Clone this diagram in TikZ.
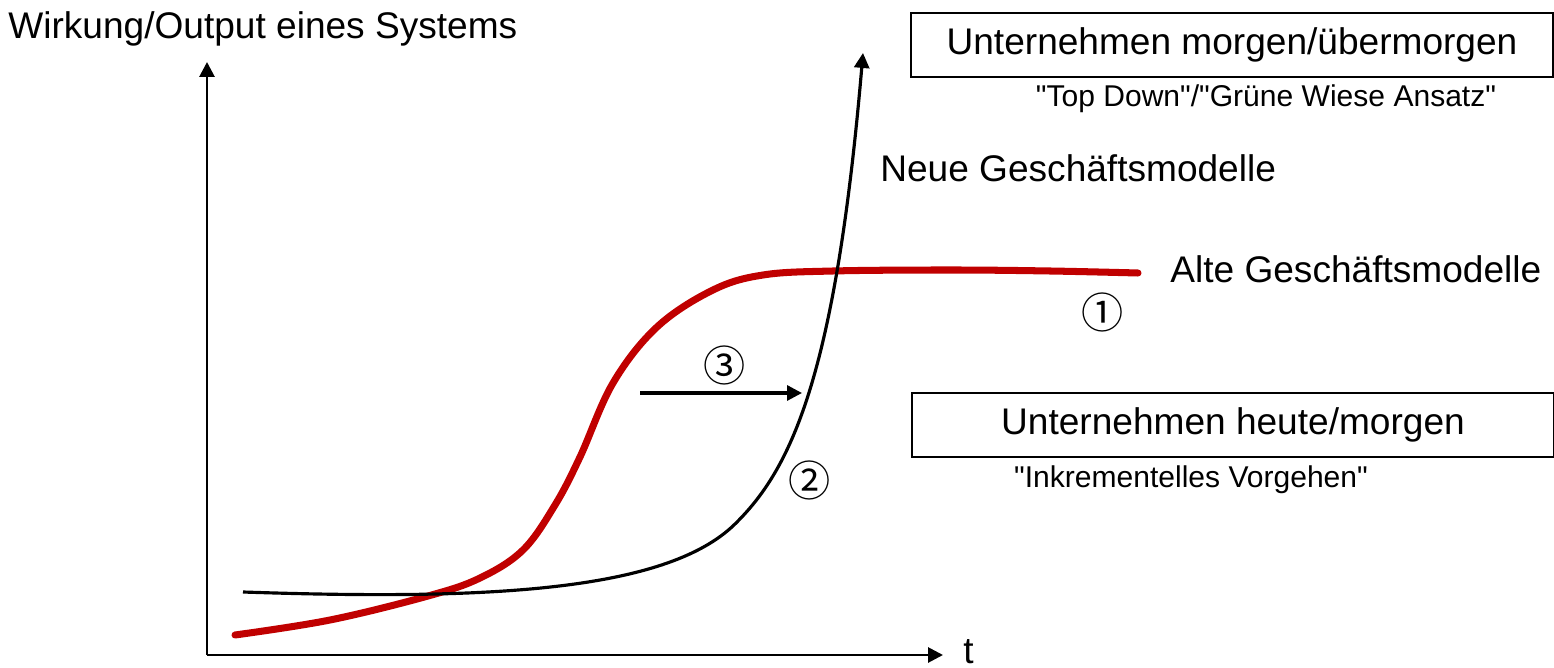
\documentclass[tikz,border=0pt]{standalone}
\usepackage{fontspec}
\setmainfont{Liberation Sans}
\newfontfamily\kreisfont{Noto Sans CJK SC}
\usetikzlibrary{arrows.meta}
\definecolor{kurvrot}{HTML}{C00000}

\begin{document}
\begin{tikzpicture}[
  x=0.02cm, y=-0.02cm,
  gross/.style={font=\fontsize{21.1}{25}\selectfont,inner sep=0pt},
  klein/.style={font=\fontsize{17.1}{20}\selectfont,inner sep=0pt},
  kasten/.style={draw,line width=0.85pt,minimum width=12.84cm,minimum height=1.28cm,
                 inner sep=0pt,font=\fontsize{21.1}{25}\selectfont},
  nummer/.style={font=\kreisfont\fontsize{24}{28}\selectfont,inner sep=0pt},
  achse/.style={line width=1.6pt,-{Triangle[length=8.5pt,width=8.5pt]}},
  neu/.style={line width=1.8pt,-{Triangle[length=8.5pt,width=8.5pt]}},
  alt/.style={draw=kurvrot,line width=4pt,line cap=round}]

\useasboundingbox (0,0) rectangle (1554,668);

% ---------------- axes ----------------
\coordinate (ursprung) at (207,655);
\coordinate (yspitze)  at (207,62);
\coordinate (xspitze)  at (943,655);
\draw[achse] (ursprung) -- (yspitze);
\draw[achse] (ursprung) -- (xspitze);
\node[gross,anchor=base west] (ytitel) at (8,39) {Wirkung/Output eines Systems};
\node[gross,anchor=base west] (zeit) at (963,663) {t};

% ---------------- curves ----------------
\draw[alt] plot[smooth,tension=0.6] coordinates {(235,635) (330,620) (428,596)
  (480,578) (523,550) (555,505) (580,457) (613,383) (657,327) (713,290)
  (763,275) (833,271) (950,270) (1050,271) (1138,273)};
\coordinate (neustart) at (243,592);
\coordinate (neumitte) at (735,524);
\coordinate (neuspitze) at (863,53);
\draw[neu] (neustart) .. controls (480,600) and (665,593) .. (neumitte)
  .. controls (790,470) and (835,380) .. (neuspitze);

\coordinate (pfeilstart) at (640,393);
\coordinate (pfeilziel)  at (802,393);
\draw[neu] (pfeilstart) -- (pfeilziel);

\node[nummer] (eins) at (1103,312) {①};
\node[nummer] (zwei) at (810,480) {②};
\node[nummer] (drei) at (725,365) {③};

% ---------------- labels ----------------
\node[gross,anchor=base west] (neue) at (880,182) {Neue Geschäftsmodelle};
\node[gross,anchor=base west] (alte) at (1170,283) {Alte Geschäftsmodelle};

\node[kasten] (uebermorgen) at (1232,45) {Unternehmen morgen/übermorgen};
\node[klein,anchor=base] (topdown) at (1266,107)
  {\textquotedbl Top Down\textquotedbl/\textquotedbl Grüne Wiese Ansatz\textquotedbl};

\node[kasten] (heute) at (1233,425) {Unternehmen heute/morgen};
\node[klein,anchor=base] (inkrementell) at (1191,487)
  {\textquotedbl Inkrementelles Vorgehen\textquotedbl};
\end{tikzpicture}
\end{document}
